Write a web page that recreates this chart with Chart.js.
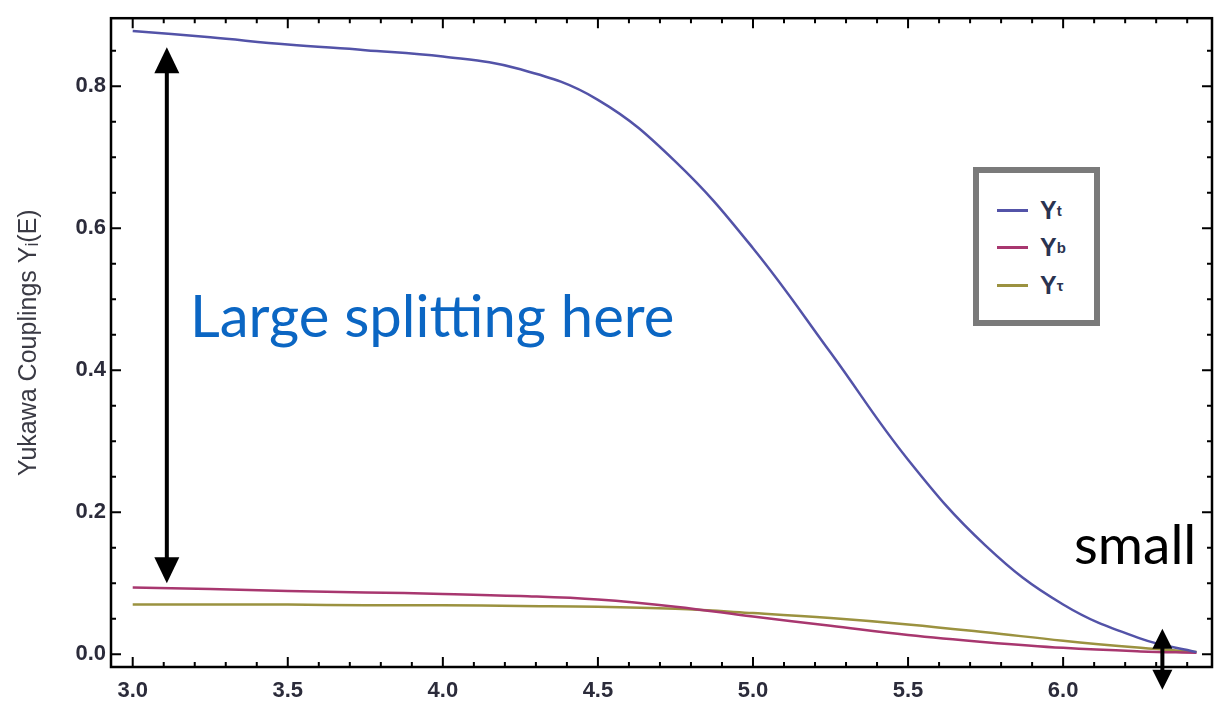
<!DOCTYPE html>
<html>
<head>
<meta charset="utf-8">
<script src="https://cdn.jsdelivr.net/npm/chart.js@4.4.1/dist/chart.umd.min.js"></script>
<style>
  body { margin: 0; background: #fff; }
  #wrap { position: relative; width: 1214px; height: 707px; overflow: hidden; }
  .note { position: absolute; font-family: Lato, "Open Sans", sans-serif; white-space: nowrap; line-height: 1; }
  #legend { position: absolute; left: 973px; top: 167px; width: 127px; height: 159px;
            box-sizing: border-box; border: 6px solid #7a7a7a; background: #fff;
            font-family: "Liberation Sans", Arial, sans-serif; font-weight: bold; font-size: 25px; color: #2a3350; }
  #legend .row { position: absolute; left: 18px; height: 28px; display: flex; align-items: center; }
  #legend .sw { width: 31px; height: 3px; margin-right: 12px; }
  #legend sub { font-size: 15px; vertical-align: -7px; }
</style>
</head>
<body>
<div id="wrap">
  <canvas id="c" width="1214" height="707"></canvas>
  <div class="note" style="left:190px; top:286px; font-size:58px; color:#0b66c3;">Large splitting here</div>
  <div class="note" style="left:1074px; top:516px; font-size:55px; color:#000;">small</div>
  <div id="legend">
    <div class="row" style="top:23px;"><span class="sw" style="background:#5353a8"></span>Y<sub>t</sub></div>
    <div class="row" style="top:60px;"><span class="sw" style="background:#a8376f"></span>Y<sub>b</sub></div>
    <div class="row" style="top:98px;"><span class="sw" style="background:#9b9240"></span>Y<sub>τ</sub></div>
  </div>
</div>
<script>
// energy scale (log10 of E) and the three couplings
const energy = [3.0, 3.25, 3.5, 3.75, 4.0, 4.25, 4.5, 4.75, 5.0, 5.25, 5.5, 5.75, 6.0, 6.25, 6.43];
const yTop    = [0.878, 0.869, 0.859, 0.851, 0.842, 0.824, 0.781, 0.694, 0.572, 0.425, 0.274, 0.153, 0.070, 0.022, 0.003];
const yBottom = [0.094, 0.092, 0.089, 0.087, 0.085, 0.082, 0.077, 0.067, 0.053, 0.040, 0.027, 0.017, 0.009, 0.004, 0.002];
const yTau    = [0.070, 0.070, 0.070, 0.069, 0.069, 0.068, 0.067, 0.064, 0.058, 0.051, 0.042, 0.031, 0.019, 0.009, 0.003];

const xTicks = [3.0, 3.5, 4.0, 4.5, 5.0, 5.5, 6.0];
const xMinor = [3.1, 3.2, 3.3, 3.4, 3.6, 3.7, 3.8, 3.9, 4.1, 4.2, 4.3, 4.4, 4.6, 4.7, 4.8, 4.9,
                5.1, 5.2, 5.3, 5.4, 5.6, 5.7, 5.8, 5.9, 6.1, 6.2, 6.3, 6.4];
const yTicks = [0.0, 0.2, 0.4, 0.6, 0.8];
const yMinor = [0.05, 0.1, 0.15, 0.25, 0.3, 0.35, 0.45, 0.5, 0.55, 0.65, 0.7, 0.75, 0.85];

const series = [
  { label: 'Y_t', values: yTop, color: '#5353a8' },
  { label: 'Y_b', values: yBottom, color: '#a8376f' },
  { label: 'Y_tau', values: yTau, color: '#9b9240' }
];

const tickFont = { family: '"Liberation Sans", Arial, sans-serif', size: 22, weight: 'bold' };

// Mathematica style frame with inward ticks, plus the two annotation arrows
const framePlugin = {
  id: 'frame',
  afterDraw(chart) {
    const { ctx, chartArea: a, scales } = chart;
    const xs = scales.x, ys = scales.y;
    ctx.save();
    ctx.strokeStyle = '#000';
    ctx.lineWidth = 2.5;
    ctx.strokeRect(a.left, a.top, a.right - a.left, a.bottom - a.top);

    ctx.lineWidth = 2;
    const tick = (len, vals, isX) => {
      vals.forEach(v => {
        ctx.beginPath();
        if (isX) {
          const px = xs.getPixelForValue(v);
          ctx.moveTo(px, a.bottom); ctx.lineTo(px, a.bottom - len);
          ctx.moveTo(px, a.top); ctx.lineTo(px, a.top + len);
        } else {
          const py = ys.getPixelForValue(v);
          ctx.moveTo(a.left, py); ctx.lineTo(a.left + len, py);
          ctx.moveTo(a.right, py); ctx.lineTo(a.right - len, py);
        }
        ctx.stroke();
      });
    };
    tick(10, xTicks, true);
    tick(5, xMinor, true);
    tick(10, yTicks, false);
    tick(5, yMinor, false);

    const arrow = (xv, y1v, y2v, headW, headL, shaft) => {
      const x = xs.getPixelForValue(xv);
      const y1 = ys.getPixelForValue(y1v), y2 = ys.getPixelForValue(y2v);
      ctx.fillStyle = '#000';
      ctx.fillRect(x - shaft / 2, y1 + headL - 1, shaft, y2 - y1 - 2 * headL + 2);
      ctx.beginPath();
      ctx.moveTo(x, y1); ctx.lineTo(x - headW / 2, y1 + headL); ctx.lineTo(x + headW / 2, y1 + headL);
      ctx.closePath(); ctx.fill();
      ctx.beginPath();
      ctx.moveTo(x, y2); ctx.lineTo(x - headW / 2, y2 - headL); ctx.lineTo(x + headW / 2, y2 - headL);
      ctx.closePath(); ctx.fill();
    };
    arrow(3.11, 0.855, 0.100, 25, 26, 4);
    arrow(6.32, 0.036, -0.050, 20, 20, 4);
    ctx.restore();
  }
};

new Chart(document.getElementById('c'), {
  type: 'line',
  data: {
    datasets: series.map(s => ({
      label: s.label,
      data: energy.map((e, i) => ({ x: e, y: s.values[i] })),
      borderColor: s.color,
      borderWidth: 2.5,
      pointRadius: 0,
      fill: false,
      tension: 0.4
    }))
  },
  options: {
    responsive: false,
    animation: false,
    layout: { padding: { top: 12, right: 2 } },
    plugins: { legend: { display: false }, tooltip: { enabled: false } },
    scales: {
      x: {
        type: 'linear',
        min: 2.93,
        max: 6.48,
        grid: { display: false, drawTicks: false },
        border: { display: false },
        ticks: { font: tickFont, color: '#2b2b3a', padding: 11, callback: v => v.toFixed(1) },
        afterBuildTicks: s => { s.ticks = xTicks.map(v => ({ value: v })); },
        afterFit: s => { s.height = 40; }
      },
      y: {
        min: -0.018,
        max: 0.896,
        grid: { display: false, drawTicks: false },
        border: { display: false },
        ticks: { font: tickFont, color: '#2b2b3a', padding: 5, callback: v => v.toFixed(1) },
        afterBuildTicks: s => { s.ticks = yTicks.map(v => ({ value: v })); },
        afterFit: s => { s.width = 111; },
        title: {
          display: true,
          text: 'Yukawa Couplings Yᵢ(E)',
          color: '#3a3a44',
          font: { family: '"Liberation Sans", Arial, sans-serif', size: 25 },
          padding: { top: 14, bottom: 0 }
        }
      }
    }
  },
  plugins: [framePlugin]
});
</script>
</body>
</html>
